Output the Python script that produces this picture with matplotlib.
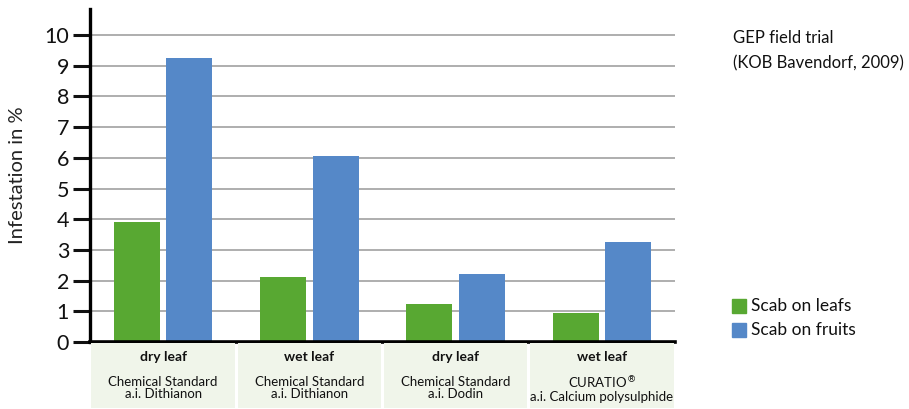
import matplotlib
matplotlib.use("Agg")
import matplotlib.pyplot as plt
from matplotlib.patches import Rectangle

plt.rcParams["font.family"] = ["Lato", "DejaVu Sans"]

# values
conditions = ["dry leaf", "wet leaf", "dry leaf", "wet leaf"]
products = [
    "Chemical Standard\na.i. Dithianon",
    "Chemical Standard\na.i. Dithianon",
    "Chemical Standard\na.i. Dodin",
    "CURATIO$^{\\circledR}$\na.i. Calcium polysulphide",
]
scab_leafs = [3.9, 2.12, 1.24, 0.93]
scab_fruits = [9.25, 6.07, 2.22, 3.27]
series_names = ["Scab on leafs", "Scab on fruits"]
yticks = list(range(0, 11))

GREEN = "#58a832"
BLUE = "#5588c8"
PANEL = "#f0f5ea"

fig = plt.figure(figsize=(9.09, 4.09), dpi=100)
ax = fig.add_axes([90 / 909, 67 / 409, 585 / 909, 333 / 409])

x = list(range(len(conditions)))
width = 0.315
offset = 0.18
ax.bar([i - offset for i in x], scab_leafs, width, color=GREEN, zorder=3)
ax.bar([i + offset for i in x], scab_fruits, width, color=BLUE, zorder=3)

ax.set_xlim(-0.5, len(conditions) - 0.5)
ax.set_ylim(0, 10.85)
ax.set_yticks(yticks)
ax.set_yticklabels([str(t) for t in yticks], fontsize=15.5)
ax.set_xticks([])
ax.grid(axis="y", color="#a8a8a8", linewidth=1.3, zorder=0)
ax.tick_params(axis="y", direction="out", length=12, width=2.2, pad=3, colors="#111111")
for side in ["top", "right"]:
    ax.spines[side].set_visible(False)
ax.spines["left"].set_linewidth(2.4)
ax.spines["bottom"].set_linewidth(2.6)
ax.spines["left"].set_zorder(4)
ax.spines["bottom"].set_zorder(4)
ax.set_ylabel("Infestation in %", fontsize=14.5, labelpad=13, color="#222222")

# category panel under the bars
pax = fig.add_axes([90 / 909, 1 / 409, 585 / 909, 65 / 409])
pax.set_xlim(-0.5, len(conditions) - 0.5)
pax.set_ylim(0, 1)
pax.axis("off")
gap = 0.009
for i, (cond, prod) in enumerate(zip(conditions, products)):
    pax.add_patch(Rectangle((i - 0.5 + gap, 0), 1 - 2 * gap, 1, color=PANEL, lw=0))
    pax.text(i, 0.78, cond, ha="center", va="center", fontsize=10, fontweight="bold", color="#111111")
    pax.text(i, 0.30, prod, ha="center", va="center", fontsize=9.5, linespacing=1.0, color="#111111")

# notes and legend on the right
fig.text(733 / 909, 1 - 38 / 409, "GEP field trial", fontsize=12, va="center", color="#111111")
fig.text(733 / 909, 1 - 63 / 409, "(KOB Bavendorf, 2009)", fontsize=12, va="center", color="#111111")
for k, (name, col) in enumerate(zip(series_names, [GREEN, BLUE])):
    yc = 306 + k * 24
    fig.patches.append(Rectangle((732 / 909, 1 - (yc + 7) / 409), 14 / 909, 14 / 409,
                                 color=col, transform=fig.transFigure, figure=fig))
    fig.text(751 / 909, 1 - yc / 409, name, fontsize=12.5, va="center", color="#111111")

fig.savefig("out.png", dpi=100)
